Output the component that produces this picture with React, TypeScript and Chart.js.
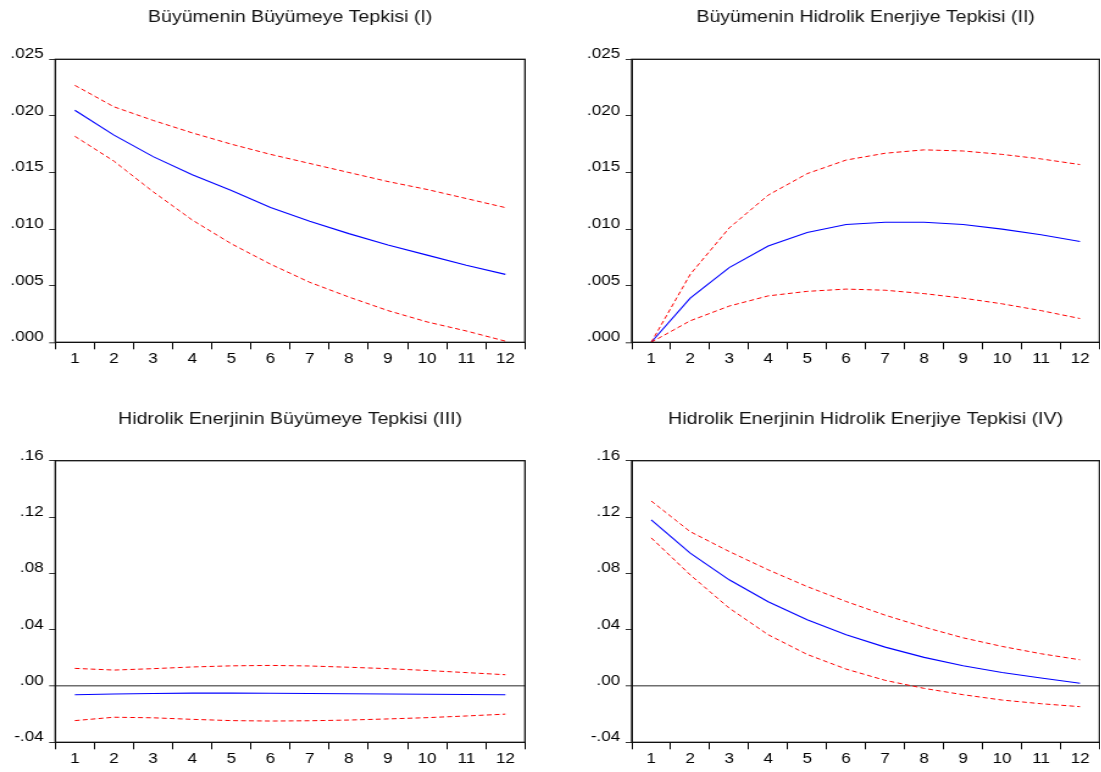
import React, { useEffect, useRef } from "react";
import { Chart, registerables } from "chart.js";

Chart.register(...registerables);

// ---------- data ----------
const periods = ["1", "2", "3", "4", "5", "6", "7", "8", "9", "10", "11", "12"];

const titleI = "Büyümenin Büyümeye Tepkisi (I)";
const responseI = [0.0205, 0.0183, 0.0164, 0.0148, 0.0134, 0.0119, 0.0107, 0.0096, 0.0086, 0.0077, 0.0068, 0.006];
const upperI = [0.0227, 0.0208, 0.0196, 0.0185, 0.0175, 0.0166, 0.0158, 0.015, 0.0142, 0.0135, 0.0127, 0.0119];
const lowerI = [0.0182, 0.016, 0.0133, 0.0108, 0.0087, 0.0069, 0.0053, 0.004, 0.0028, 0.0018, 0.001, 0.0001];

const titleII = "Büyümenin Hidrolik Enerjiye Tepkisi (II)";
const responseII = [0, 0.0039, 0.0066, 0.0085, 0.0097, 0.0104, 0.0106, 0.0106, 0.0104, 0.01, 0.0095, 0.0089];
const upperII = [0, 0.006, 0.0101, 0.013, 0.0149, 0.0161, 0.0167, 0.017, 0.0169, 0.0166, 0.0162, 0.0157];
const lowerII = [0, 0.0019, 0.0032, 0.0041, 0.0045, 0.0047, 0.0046, 0.0043, 0.0039, 0.0034, 0.0028, 0.0021];

const titleIII = "Hidrolik Enerjinin Büyümeye Tepkisi (III)";
const responseIII = [-0.0062, -0.0057, -0.0053, -0.0051, -0.0051, -0.0052, -0.0053, -0.0055, -0.0057, -0.0059, -0.006, -0.0062];
const upperIII = [0.0125, 0.0113, 0.0123, 0.0135, 0.0143, 0.0146, 0.0142, 0.0133, 0.0123, 0.011, 0.0095, 0.008];
const lowerIII = [-0.0246, -0.0222, -0.0226, -0.0237, -0.0246, -0.0249, -0.0247, -0.0242, -0.0234, -0.0225, -0.0213, -0.02];

const titleIV = "Hidrolik Enerjinin Hidrolik Enerjiye Tepkisi (IV)";
const responseIV = [0.1179, 0.0943, 0.0754, 0.0598, 0.047, 0.0364, 0.0276, 0.0203, 0.0144, 0.0096, 0.0057, 0.0019];
const upperIV = [0.1314, 0.1096, 0.0955, 0.0825, 0.0706, 0.06, 0.0503, 0.0418, 0.0342, 0.0281, 0.0229, 0.0186];
const lowerIV = [0.1052, 0.0789, 0.0553, 0.0364, 0.0224, 0.012, 0.004, -0.0017, -0.0062, -0.01, -0.0126, -0.0147];

const smallAxis = { min: 0, max: 0.025, step: 0.005, decimals: 3 };
const largeAxis = { min: -0.04, max: 0.16, step: 0.04, decimals: 2 };

// ---------- layout ----------
const STRETCH = 1.22;
const FONT = "'Liberation Sans', Arial, sans-serif";

const framePlugin = {
  id: "frame",
  afterDatasetsDraw(chart: any) {
    const { ctx, chartArea } = chart;
    const { left, top, right, bottom } = chartArea;
    ctx.save();
    ctx.strokeStyle = "#111";
    ctx.lineWidth = 1.3;
    ctx.strokeRect(left, top, right - left, bottom - top);
    ctx.restore();
  },
};

function fmt(v: number, d: number) {
  const s = Math.abs(v).toFixed(d).replace(/^0/, "");
  return (v < -1e-9 ? "-" : "") + s;
}

type PanelProps = {
  title: string;
  response: number[];
  upper: number[];
  lower: number[];
  axis: { min: number; max: number; step: number; decimals: number };
  zeroLine: boolean;
  pageLeft: number;
  pageTop: number;
  width: number;
  height: number;
  yWidth: number;
  padRight: number;
  titleTop: number;
  titleBottom: number;
  xHeight: number;
};

function Panel(p: PanelProps) {
  const ref = useRef<HTMLCanvasElement | null>(null);
  useEffect(() => {
    if (!ref.current) return;
    const chart = new Chart(ref.current, {
      type: "line",
      data: {
        labels: periods,
        datasets: [
          {
            data: p.upper,
            borderColor: "#ff0000",
            borderWidth: 1,
            borderDash: [4, 2.5],
            pointRadius: 0,
            tension: 0,
            clip: 4,
          },
          {
            data: p.lower,
            borderColor: "#ff0000",
            borderWidth: 1,
            borderDash: [4, 2.5],
            pointRadius: 0,
            tension: 0,
            clip: 4,
          },
          {
            data: p.response,
            borderColor: "#0000ff",
            borderWidth: 1.1,
            pointRadius: 0,
            tension: 0,
            clip: 4,
          },
        ],
      } as any,
      options: {
        animation: false,
        responsive: false,
        maintainAspectRatio: false,
        layout: { padding: { left: 0, right: p.padRight, top: 0, bottom: 0 } },
        plugins: {
          legend: { display: false },
          tooltip: { enabled: false },
          title: {
            display: true,
            fullSize: false,
            text: p.title,
            color: "#111",
            font: { family: FONT, size: 16, weight: "normal" },
            padding: { top: p.titleTop, bottom: p.titleBottom },
          },
        },
        scales: {
          x: {
            type: "category",
            offset: true,
            grid: {
              offset: true,
              drawOnChartArea: false,
              drawTicks: true,
              tickLength: 7,
              color: "#000",
              tickColor: "#000",
            },
            border: { display: true, color: "#000", width: 1 },
            ticks: {
              color: "#000",
              font: { family: FONT, size: 14 },
              padding: 1,
              maxRotation: 0,
              autoSkip: false,
            },
            afterFit: (s: any) => {
              s.height = p.xHeight;
            },
          },
          y: {
            min: p.axis.min,
            max: p.axis.max,
            grid: {
              drawOnChartArea: p.zeroLine,
              drawTicks: true,
              tickLength: 5,
              color: (c: any) =>
                c.tick && Math.abs(c.tick.value) < 1e-9 ? "#6e6e6e" : "rgba(0,0,0,0)",
              lineWidth: (c: any) =>
                c.tick && Math.abs(c.tick.value) < 1e-9 ? 1.6 : 1,
              tickColor: "#333",
              tickWidth: 1,
            },
            border: { display: true, color: "#000", width: 1 },
            ticks: {
              stepSize: p.axis.step,
              color: "#000",
              font: { family: FONT, size: 14 },
              padding: 4.5,
              labelOffset: -5,
              callback: (v: any) => fmt(Number(v), p.axis.decimals),
            },
            afterFit: (s: any) => {
              s.width = p.yWidth;
            },
          },
        },
      } as any,
      plugins: [framePlugin],
    });
    return () => chart.destroy();
  }, []);

  return (
    <div
      style={{
        position: "absolute",
        left: p.pageLeft,
        top: p.pageTop,
        width: p.width,
        height: p.height,
        transform: `scaleX(${STRETCH})`,
        transformOrigin: "0 0",
      }}
    >
      <canvas ref={ref} width={p.width} height={p.height} style={{ display: "block" }} />
    </div>
  );
}

const leftCol = { pageLeft: 0, width: 451, yWidth: 45.3, padRight: 20.7 };
const rightCol = { pageLeft: 550, width: 451, yWidth: 67.0, padRight: 0.6 };
const topRow = { pageTop: 0, height: 380, titleTop: 8, titleBottom: 32.1, xHeight: 37.7 };
const bottomRow = { pageTop: 400, height: 372, titleTop: 10, titleBottom: 31.5, xHeight: 29.7 };

export default function App() {
  return (
    <div style={{ position: "absolute", left: 0, top: 0, width: 1101, height: 772, background: "#fff" }}>
      <Panel title={titleI} response={responseI} upper={upperI} lower={lowerI} axis={smallAxis} zeroLine={false} {...leftCol} {...topRow} />
      <Panel title={titleII} response={responseII} upper={upperII} lower={lowerII} axis={smallAxis} zeroLine={false} {...rightCol} {...topRow} />
      <Panel title={titleIII} response={responseIII} upper={upperIII} lower={lowerIII} axis={largeAxis} zeroLine={true} {...leftCol} {...bottomRow} />
      <Panel title={titleIV} response={responseIV} upper={upperIV} lower={lowerIV} axis={largeAxis} zeroLine={true} {...rightCol} {...bottomRow} />
    </div>
  );
}
